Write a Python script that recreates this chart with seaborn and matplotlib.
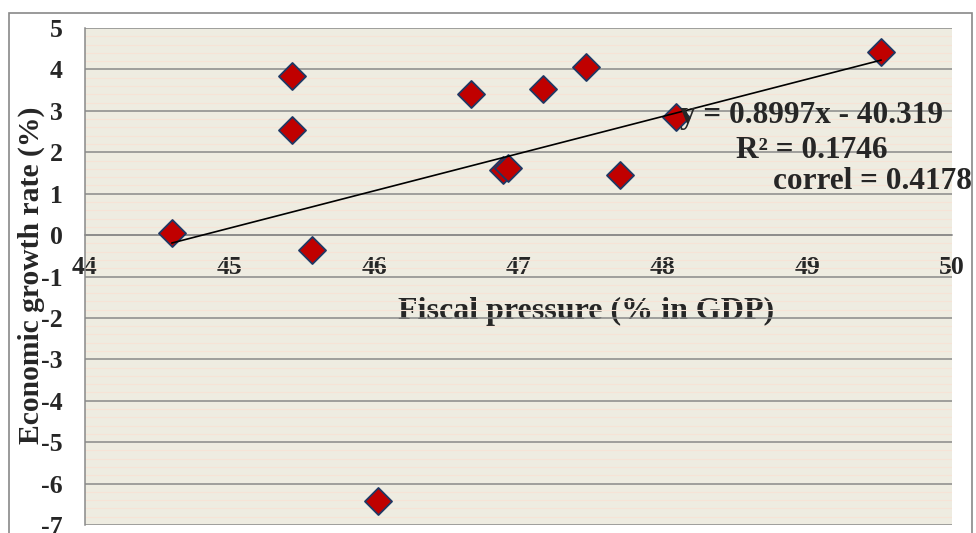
import numpy as np
import pandas as pd
import matplotlib
matplotlib.use("Agg")
import matplotlib.pyplot as plt
from matplotlib.patches import Rectangle
from matplotlib.ticker import MultipleLocator
import seaborn as sns

# values
fiscal = [44.60, 45.43, 45.43, 45.57, 46.03, 46.67, 46.89, 46.93, 47.17, 47.47, 47.70, 48.09, 49.51]
growth = [0.05, 3.85, 2.54, -0.36, -6.42, 3.41, 1.57, 1.62, 3.53, 4.05, 1.44, 2.85, 4.43]
slope = 0.8997
intercept = -40.319
r2_text = "R\u00b2 = 0.1746"
correl_text = "correl = 0.4178"

df = pd.DataFrame({"fiscal": fiscal, "growth": growth})

sns.set_style("white")
plt.rcParams["font.family"] = ["Liberation Serif", "DejaVu Serif"]
plt.rcParams["font.weight"] = "bold"
plt.rcParams["axes.unicode_minus"] = False

fig = plt.figure(figsize=(9.76, 5.33), dpi=100)
W, H = 976, 533
ax = fig.add_axes([85 / W, (H - 525) / H, (952 - 85) / W, (525 - 28) / H])
ax.set_facecolor("#EEECE1")

# faint texture lines + major grid
ax.yaxis.set_minor_locator(MultipleLocator(0.2))
ax.yaxis.set_major_locator(MultipleLocator(1))
ax.xaxis.set_major_locator(MultipleLocator(1))
ax.grid(axis="y", which="minor", color="#F6E3D6", linewidth=0.8, zorder=0)
ax.grid(axis="y", which="major", color="#898989", linewidth=1.1, zorder=0.5)
ax.grid(axis="x", visible=False)
ax.set_axisbelow(True)

sns.scatterplot(data=df, x="fiscal", y="growth", ax=ax, marker="D", s=190,
                color="#C00000", edgecolor="#1F3864", linewidth=1.3, zorder=3)

# linear trendline over data range
xs = np.array([df["fiscal"].min(), df["fiscal"].max()])
sns.lineplot(x=xs, y=slope * xs + intercept, ax=ax, color="black", linewidth=1.2, zorder=4)

ax.set_xlim(44, 50)
ax.set_ylim(-7, 5)

for s in ["top", "right"]:
    ax.spines[s].set_visible(False)
ax.spines["left"].set_color("#898989")
ax.spines["left"].set_linewidth(1.1)
ax.spines["bottom"].set_position(("data", 0))
ax.spines["bottom"].set_color("#898989")
ax.spines["bottom"].set_linewidth(1.1)

ax.tick_params(axis="y", which="major", direction="out", length=6, width=1.1,
               color="#898989", pad=10, labelsize=18.5)
ax.tick_params(axis="y", which="minor", length=0)
ax.tick_params(axis="x", direction="out", length=6, width=1.1,
               color="#898989", pad=9, labelsize=18.5)
for lab in ax.get_xticklabels() + ax.get_yticklabels():
    lab.set_fontweight("bold")

ax.set_xlabel("Fiscal pressure (% in GDP)", fontsize=23, fontweight="bold")
ax.xaxis.set_label_coords(0.578, 0.429)
ax.xaxis.label.set_verticalalignment("center")
ax.set_ylabel("Economic growth rate (%)", fontsize=21.3, fontweight="bold")
ax.yaxis.set_label_coords(-0.062, 0.503)
ax.yaxis.label.set_verticalalignment("center")

eq_text = f"y = {slope}x - {abs(intercept)}"
ax.text(0.838, 0.823, eq_text, transform=ax.transAxes, ha="center", va="center",
        fontsize=22.5, fontweight="bold", zorder=5, clip_on=False)
ax.text(0.838, 0.753, r2_text, transform=ax.transAxes, ha="center", va="center",
        fontsize=22.5, fontweight="bold", zorder=5, clip_on=False)
ax.text(1.023, 0.691, correl_text, transform=ax.transAxes, ha="right", va="center",
        fontsize=22.5, fontweight="bold", zorder=5, clip_on=False)

# chart area border
fig.patches.append(Rectangle((9 / W, -0.05), (972 - 9) / W, 1 - 13 / H + 0.05,
                             transform=fig.transFigure, fill=False,
                             edgecolor="#898989", linewidth=1.2))

fig.savefig("out.png", dpi=100)
